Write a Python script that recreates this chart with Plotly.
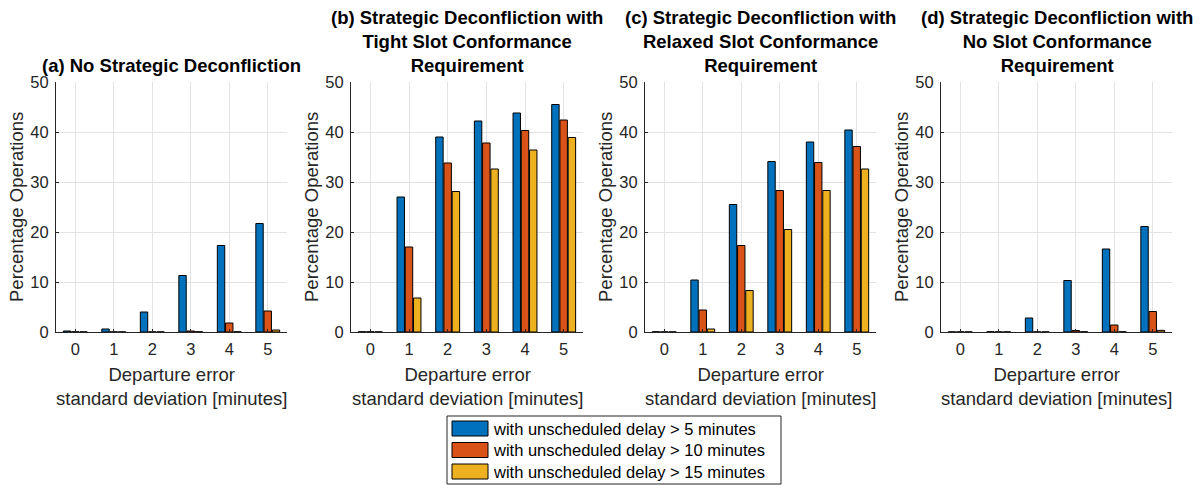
import plotly.graph_objects as go

# ---------------- data ----------------
categories = [0, 1, 2, 3, 4, 5]
series_names = [
    "with unscheduled delay > 5 minutes",
    "with unscheduled delay > 10 minutes",
    "with unscheduled delay > 15 minutes",
]
series_colors = ["#0072BD", "#D95319", "#EDB120"]

panel_titles = [
    "(a) No Strategic Deconfliction",
    "(b) Strategic Deconfliction with<br>Tight Slot Conformance<br>Requirement",
    "(c) Strategic Deconfliction with<br>Relaxed Slot Conformance<br>Requirement",
    "(d) Strategic Deconfliction with<br>No Slot Conformance<br>Requirement",
]

# (a) No strategic deconfliction
a_gt5 = [0.2, 0.6, 4.0, 11.3, 17.3, 21.7]
a_gt10 = [0.05, 0.03, 0.03, 0.2, 1.8, 4.2]
a_gt15 = [0.03, 0.03, 0.03, 0.05, 0.05, 0.4]
# (b) Tight slot conformance
b_gt5 = [0.05, 27.0, 39.0, 42.2, 43.8, 45.5]
b_gt10 = [0.05, 17.0, 33.8, 37.8, 40.3, 42.4]
b_gt15 = [0.03, 6.8, 28.1, 32.6, 36.4, 38.9]
# (c) Relaxed slot conformance
c_gt5 = [0.05, 10.4, 25.5, 34.1, 38.0, 40.4]
c_gt10 = [0.03, 4.4, 17.3, 28.3, 33.9, 37.1]
c_gt15 = [0.03, 0.6, 8.3, 20.5, 28.3, 32.6]
# (d) No slot conformance
d_gt5 = [0.03, 0.05, 2.8, 10.3, 16.6, 21.1]
d_gt10 = [0.03, 0.03, 0.03, 0.3, 1.4, 4.1]
d_gt15 = [0.03, 0.03, 0.03, 0.05, 0.05, 0.33]

panels = [
    [a_gt5, a_gt10, a_gt15],
    [b_gt5, b_gt10, b_gt15],
    [c_gt5, c_gt10, c_gt15],
    [d_gt5, d_gt10, d_gt15],
]

y_ticks = [0, 10, 20, 30, 40, 50]
y_label = "Percentage Operations"
x_label = "Departure error<br>standard deviation [minutes]"

# ---------------- layout geometry ----------------
W, H = 1202, 485
ax_px = [(56, 287), (351, 583), (645, 876), (941, 1172)]
y_top_px, y_bot_px = 82, 332

FONT = "Liberation Sans, Arial, Helvetica, sans-serif"
TXT = "#262626"
GRID = "#e3e3e3"

fig = go.Figure()

for i, panel in enumerate(panels):
    ax = "" if i == 0 else str(i + 1)
    for j, vals in enumerate(panel):
        fig.add_trace(go.Bar(
            x=categories, y=vals, name=series_names[j],
            marker=dict(color=series_colors[j], line=dict(color="black", width=1)),
            xaxis="x" + ax, yaxis="y" + ax, showlegend=False,
            offsetgroup=str(j),
        ))

layout = dict(
    template="none",
    width=W, height=H, autosize=False,
    margin=dict(l=0, r=0, t=0, b=0, pad=0, autoexpand=False),
    paper_bgcolor="white", plot_bgcolor="white",
    barmode="group", bargap=0.36, bargroupgap=0.1,
    font=dict(family=FONT, color=TXT, size=17),
    showlegend=False,
)

annotations = []
shapes = []
y0 = 1 - y_bot_px / H
y1 = 1 - y_top_px / H
for i, (l, r) in enumerate(ax_px):
    ax = "" if i == 0 else str(i + 1)
    layout["xaxis" + ax] = dict(
        domain=[l / W, r / W], range=[-0.5, 5.5], tickvals=categories,
        showgrid=True, gridcolor=GRID, gridwidth=1,
        showline=True, linecolor=TXT, linewidth=1, zeroline=False,
        ticks="inside", ticklen=3, tickcolor=TXT,
        tickfont=dict(size=16.5, color=TXT), anchor="y" + ax,
        ticklabelstandoff=2, fixedrange=True, automargin=False,
    )
    layout["yaxis" + ax] = dict(
        domain=[y0, y1], range=[0, 50], tickvals=y_ticks,
        showgrid=True, gridcolor=GRID, gridwidth=1,
        showline=True, linecolor=TXT, linewidth=1, zeroline=False,
        ticks="inside", ticklen=3, tickcolor=TXT,
        tickfont=dict(size=16.5, color=TXT), anchor="x" + ax,
        ticklabelstandoff=3, fixedrange=True, automargin=False,
    )
    xc = (l + r) / 2 / W
    # title
    annotations.append(dict(
        text="<b>" + panel_titles[i] + "</b>", x=xc, y=y1, xref="paper", yref="paper",
        xanchor="center", yanchor="bottom", yshift=4, showarrow=False,
        font=dict(size=18.5, color="black", family=FONT), align="center",
    ))
    # x label
    annotations.append(dict(
        text=x_label, x=xc, y=y0, xref="paper", yref="paper",
        xanchor="center", yanchor="top", yshift=-30, showarrow=False,
        font=dict(size=18.5, color=TXT, family=FONT), align="center",
    ))
    # y label
    annotations.append(dict(
        text=y_label, x=l / W, y=(y0 + y1) / 2, xref="paper", yref="paper",
        xanchor="center", yanchor="middle", xshift=-40, textangle=-90,
        showarrow=False, font=dict(size=18.5, color=TXT, family=FONT),
    ))

# legend (drawn manually to get MATLAB-style wide patches)
def px_x(v):
    return v / W

def px_y(v):
    return 1 - v / H

shapes.append(dict(type="rect", xref="paper", yref="paper",
                   x0=px_x(447), x1=px_x(781), y0=px_y(484), y1=px_y(416),
                   line=dict(color=TXT, width=1), fillcolor="white"))
row_tops = [421, 442.5, 464]
for j, name in enumerate(series_names):
    t = row_tops[j]
    shapes.append(dict(type="rect", xref="paper", yref="paper",
                       x0=px_x(452), x1=px_x(488), y0=px_y(t + 15), y1=px_y(t),
                       line=dict(color="black", width=1), fillcolor=series_colors[j]))
    annotations.append(dict(
        text=name, x=px_x(491), y=px_y(t + 7.5), xref="paper", yref="paper",
        xanchor="left", yanchor="middle", showarrow=False,
        font=dict(size=16.5, color="black", family=FONT),
    ))

layout["annotations"] = annotations
layout["shapes"] = shapes
fig.update_layout(**layout)
fig.write_html("out.html")
